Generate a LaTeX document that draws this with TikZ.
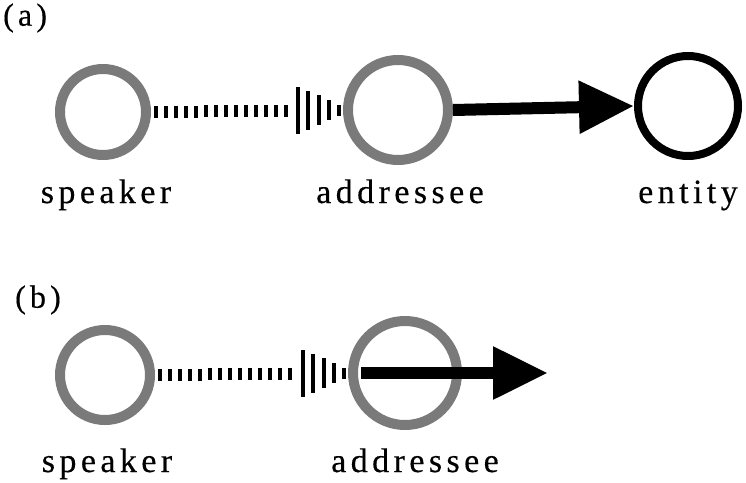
\documentclass[tikz,border=0pt]{standalone}
\usepackage{fontspec}
\setmainfont{Liberation Serif}
\newfontfamily\labfont[LetterSpace=13,FakeBold=0.4]{Liberation Serif}
\usetikzlibrary{calc,arrows.meta}

\tikzset{
  personring/.style={circle, draw=black!52, line width=10pt, inner sep=0pt, minimum size=#1},
  thingring/.style={circle, draw=black, line width=8pt, inner sep=0pt, minimum size=#1},
  lab/.style={font=\labfont\fontsize{34}{40}\selectfont, inner sep=0pt, anchor=base},
  panel/.style={font=\labfont\fontsize{32}{38}\selectfont, inner sep=0pt, anchor=west},
  tick/.style={fill=black},
  bigarrow/.style={line width=12pt, -{Triangle[length=55pt,width=50pt]}}
}

\begin{document}
\begin{tikzpicture}[x=1pt,y=-1pt]
\useasboundingbox (0,0) rectangle (746,482);

% ---------- (a) ----------
\node[panel] (pa) at (3,18) {(a)};
\node[personring=86pt]  (s1) at (103,112) {};
\node[personring=100pt] (a1) at (398,110) {};
\node[thingring=100pt]  (e1) at (688,106) {};

\node[lab] (ls1) at (106,203) {speaker};
\node[lab] (la1) at (400,203) {addressee};
\node[lab] (le1) at (688,203) {entity};

% speech: evenly spaced small ticks along the line, then a widening burst
\foreach \i [evaluate=\i as \d using 5+10*\i] in {0,...,13}
  \fill[tick] ($(s1.east)!\d pt!(a1.west)+(-1.7,-6)$) rectangle ($(s1.east)!\d pt!(a1.west)+(1.7,6)$);
\foreach \dx/\h in {45/23.5, 35/19.5, 24/15, 14/10, 4/5.5}
  \fill[tick] ($(a1.west)!\dx pt!(s1.east)+(-1.9,-\h)$) rectangle ($(a1.west)!\dx pt!(s1.east)+(1.9,\h)$);

% reference to the entity
\draw[bigarrow] (a1.east) -- (e1.west);

% ---------- (b) ----------
\node[panel] (pb) at (15,300) {(b)};
\node[personring=90pt]  (s2) at (105,375) {};
\node[personring=104pt] (a2) at (405,373) {};
\coordinate (tipb) at (548,373);

\node[lab] (ls2) at (107,472) {speaker};
\node[lab] (la2) at (415,472) {addressee};

\foreach \i [evaluate=\i as \d using 5+10*\i] in {0,...,13}
  \fill[tick] ($(s2.east)!\d pt!(a2.west)+(-1.7,-6)$) rectangle ($(s2.east)!\d pt!(a2.west)+(1.7,6)$);
\foreach \dx/\h in {45/23.5, 35/19.5, 24/15, 14/10, 4/5.5}
  \fill[tick] ($(a2.west)!\dx pt!(s2.east)+(-1.9,-\h)$) rectangle ($(a2.west)!\dx pt!(s2.east)+(1.9,\h)$);

\draw[bigarrow] ($(a2.west)+(13,0)$) -- (tipb);
\end{tikzpicture}
\end{document}
